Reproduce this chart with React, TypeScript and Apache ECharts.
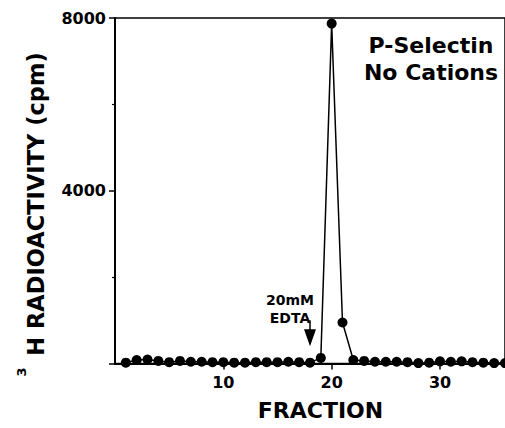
import React, { useEffect, useRef } from "react";
import * as echarts from "echarts";

const fractions = [1, 2, 3, 4, 5, 6, 7, 8, 9, 10, 11, 12, 13, 14, 15, 16, 17, 18, 19, 20, 21, 22, 23, 24, 25, 26, 27, 28, 29, 30, 31, 32, 33, 34, 35, 36];
const cpm = [20, 80, 90, 60, 30, 60, 40, 40, 30, 30, 20, 20, 30, 30, 30, 40, 30, 20, 130, 7870, 950, 80, 60, 40, 40, 40, 30, 10, 20, 50, 40, 50, 30, 20, 10, 10];
const xTickInterval = 10;
const yTickInterval = 4000;
const arrowFraction = 18;
const arrowFrom = 1000;
const arrowTo = 400;

const FONT = "DejaVu Sans";

export default function App() {
  const ref = useRef<HTMLDivElement>(null);
  useEffect(() => {
    if (!ref.current) return;
    const chart = echarts.init(ref.current, null, { renderer: "svg" });
    const data = fractions.map((f, i) => [f, cpm[i]]);
    const texts: any[] = [
      {
        type: "text",
        x: 431,
        y: 45,
        style: { text: "P-Selectin", font: `bold 22px "${FONT}"`, fill: "#000", textAlign: "center", textVerticalAlign: "middle" },
      },
      {
        type: "text",
        x: 431,
        y: 72,
        style: { text: "No Cations", font: `bold 22px "${FONT}"`, fill: "#000", textAlign: "center", textVerticalAlign: "middle" },
      },
      {
        type: "text",
        x: 290,
        y: 300,
        style: { text: "20mM", font: `bold 14px "${FONT}"`, fill: "#000", textAlign: "center", textVerticalAlign: "middle" },
      },
      {
        type: "text",
        x: 290,
        y: 318,
        style: { text: "EDTA", font: `bold 14px "${FONT}"`, fill: "#000", textAlign: "center", textVerticalAlign: "middle" },
      },
      {
        type: "text",
        x: 320.5,
        y: 410.5,
        style: { text: "FRACTION", font: `bold 22px "${FONT}"`, fill: "#000", textAlign: "center", textVerticalAlign: "middle" },
      },
      {
        type: "text",
        x: 35.5,
        y: 204,
        rotation: Math.PI / 2,
        style: { text: "H RADIOACTIVITY (cpm)", font: `bold 22.5px "${FONT}"`, fill: "#000", textAlign: "center", textVerticalAlign: "middle" },
      },
      {
        type: "text",
        x: 21.5,
        y: 372,
        rotation: Math.PI / 2,
        style: { text: "3", font: `bold 13px "${FONT}"`, fill: "#000", textAlign: "center", textVerticalAlign: "middle" },
      },
    ];
    chart.setOption({
      animation: false,
      backgroundColor: "#fff",
      grid: {
        left: 115,
        right: -1,
        top: 18,
        bottom: 64.5,
        show: true,
        borderColor: "#000",
        borderWidth: 1.5,
      },
      xAxis: {
        type: "value",
        min: 0,
        max: 36,
        interval: xTickInterval,
        axisLine: { show: true, onZero: false, lineStyle: { color: "#000", width: 2 } },
        axisTick: { show: true, inside: false, length: 6, lineStyle: { color: "#000", width: 1.5 } },
        splitLine: { show: false },
        axisLabel: {
          showMinLabel: false,
          showMaxLabel: false,
          margin: 11,
          color: "#000",
          fontFamily: FONT,
          fontWeight: "bold",
          fontSize: 16,
          formatter: (v: number) => String(v),
        },
      },
      yAxis: {
        type: "value",
        min: 0,
        max: 8000,
        interval: yTickInterval,
        axisLine: { show: true, lineStyle: { color: "#000", width: 2 } },
        axisTick: { show: true, inside: false, length: 6, lineStyle: { color: "#000", width: 1.5 } },
        minorTick: { show: true, splitNumber: 2, length: 3, lineStyle: { color: "#000", width: 1.2 } },
        splitLine: { show: false },
        axisLabel: {
          showMinLabel: false,
          margin: 9,
          color: "#000",
          fontFamily: FONT,
          fontWeight: "bold",
          fontSize: 16,
          formatter: (v: number) => String(v),
        },
      },
      series: [
        {
          type: "line",
          data,
          symbol: "circle",
          symbolSize: 10,
          itemStyle: { color: "#000" },
          lineStyle: { color: "#000", width: 1.5 },
        },
      ],
      graphic: texts,
    });
    const top = chart.convertToPixel({ gridIndex: 0 }, [arrowFraction, arrowFrom]) as number[];
    const tip = chart.convertToPixel({ gridIndex: 0 }, [arrowFraction, arrowTo]) as number[];
    const headH = 17;
    const headW = 12;
    chart.setOption({
      graphic: [
        ...texts,
        {
          type: "line",
          shape: { x1: top[0], y1: top[1], x2: tip[0], y2: tip[1] - headH + 1 },
          style: { stroke: "#000", lineWidth: 1.5 },
        },
        {
          type: "polygon",
          shape: {
            points: [
              [tip[0] - headW / 2, tip[1] - headH],
              [tip[0] + headW / 2, tip[1] - headH],
              [tip[0], tip[1]],
            ],
          },
          style: { fill: "#000" },
        },
      ],
    });
    return () => chart.dispose();
  }, []);
  return <div ref={ref} style={{ position: "absolute", left: 0, top: 0, width: 505, height: 428 }} />;
}
